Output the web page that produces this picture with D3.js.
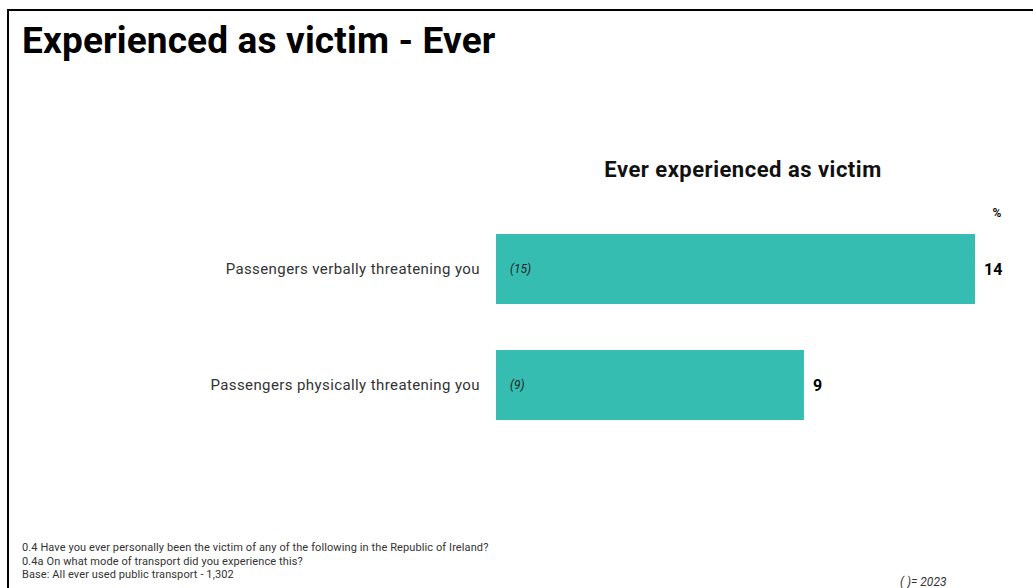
<!DOCTYPE html>
<html><head><meta charset="utf-8">
<script src="https://cdn.jsdelivr.net/npm/d3@7"></script>
<style>body{margin:0;background:#fff;}svg{display:block;font-family:Roboto,"Open Sans",sans-serif;}</style>
</head><body>
<svg id="c" width="1033" height="588"></svg>
<script>
const categories = ["Passengers verbally threatening you","Passengers physically threatening you"];
const values2024 = [14, 9];
const values2023 = [15, 9];
const footnotes = ["0.4 Have you ever personally been the victim of any of the following in the Republic of Ireland?","0.4a On what mode of transport did you experience this?","Base: All ever used public transport - 1,302"];

const svg = d3.select("#c");
// frame
svg.append("path").attr("d","M8,600 L8,10 L1040,10").attr("fill","none").attr("stroke","#000").attr("stroke-width",2);

svg.append("text").attr("x",22).attr("y",53).attr("font-size",37).attr("font-weight",700).attr("fill","#000")
  .attr("letter-spacing","0.15").text("Experienced as victim - Ever");

svg.append("text").attr("x",743).attr("y",177).attr("text-anchor","middle").attr("font-size",22).attr("font-weight",700).attr("fill","#111")
  .attr("letter-spacing","0.5").text("Ever experienced as victim");

const x = d3.scaleLinear().domain([0,14]).range([496,975]);
const y = d3.scaleBand().domain(categories).range([234,420]).paddingInner(46/116).paddingOuter(0);

svg.append("text").attr("x",997).attr("y",217).attr("text-anchor","middle").attr("font-size",12).attr("font-weight",700).attr("fill","#111").text("%");

const g = svg.append("g");
categories.forEach((c,i)=>{
  const yy = y(c), h = y.bandwidth();
  g.append("rect").attr("x",x(0)).attr("y",yy).attr("width",x(values2024[i])-x(0)).attr("height",h).attr("fill","#36BDB1");
  g.append("text").attr("x",480).attr("y",yy+h/2+5).attr("text-anchor","end").attr("font-size",15).attr("letter-spacing","0.4").attr("fill","#333").text(c);
  g.append("text").attr("x",x(0)+14).attr("y",yy+h/2+4).attr("font-size",12).attr("font-style","italic").attr("fill","#222").text("("+values2023[i]+")");
  g.append("text").attr("x",x(values2024[i])+9).attr("y",yy+h/2+6).attr("font-size",16).attr("font-weight",700).attr("fill","#000").text(values2024[i]);
});

footnotes.forEach((f,i)=>{
  svg.append("text").attr("x",22).attr("y",551+i*13.5).attr("font-size",11).attr("letter-spacing","0.1").attr("fill","#333").text(f);
});
svg.append("text").attr("x",900).attr("y",586).attr("font-size",12).attr("font-style","italic").attr("fill","#333").text("( )= 2023");
</script>
</body></html>
